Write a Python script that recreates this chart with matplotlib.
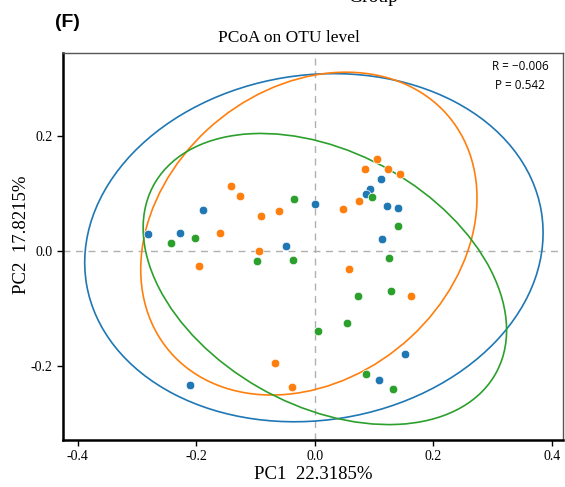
import matplotlib
matplotlib.use('Agg')
import matplotlib.pyplot as plt
from matplotlib.patches import Ellipse

# sample scores on the first two axes, one list per group
blue_pc1 = [-0.189, 0.000, -0.281, -0.227, -0.049, 0.111, 0.093, 0.087, 0.122, 0.140, 0.114, 0.152, 0.109, -0.211]
blue_pc2 = [0.071, 0.081, 0.030, 0.031, 0.008, 0.125, 0.107, 0.099, 0.078, 0.075, 0.020, -0.180, -0.225, -0.233]

orange_pc1 = [-0.142, -0.126, -0.090, -0.060, -0.160, -0.094, -0.196, 0.105, 0.085, 0.124, 0.143, 0.075, 0.047, 0.057, 0.163, -0.068, -0.038]
orange_pc2 = [0.113, 0.096, 0.060, 0.069, 0.031, 0.000, -0.026, 0.159, 0.143, 0.143, 0.134, 0.086, 0.072, -0.031, -0.078, -0.195, -0.236]

green_pc1 = [-0.035, -0.203, -0.243, -0.098, -0.037, 0.097, 0.141, 0.126, 0.073, 0.129, 0.055, 0.006, 0.087, 0.132]
green_pc2 = [0.090, 0.023, 0.013, -0.018, -0.016, 0.093, 0.043, -0.012, -0.078, -0.070, -0.125, -0.139, -0.214, -0.240]

# confidence ellipses: centre x, centre y, semi-major, semi-minor, angle (deg)
ell_blue = [-0.0015, 0.0055, 0.389, 0.300, 9.5]
ell_orange = [-0.010, 0.030, 0.312, 0.249, 43.6]
ell_green = [0.017, -0.049, 0.332, 0.219, -30.6]

stat_r = '\u22120.006'
stat_p = '0.542'

c_blue = '#1f77b4'
c_orange = '#ff7f0e'
c_green = '#2ca02c'

serif = ['Liberation Serif', 'DejaVu Serif']
sans = ['Open Sans', 'DejaVu Sans']

fig = plt.figure(figsize=(5.65, 4.87), dpi=100)
ax = fig.add_axes([0.1115, 0.0965, 0.885, 0.7945])

ax.axhline(0, color='#b0b0b0', linestyle=(0, (5, 4)), linewidth=1.0, zorder=0)
ax.axvline(0, color='#b0b0b0', linestyle=(0, (5, 4)), linewidth=1.0, zorder=0)

for e, c in [(ell_blue, c_blue), (ell_orange, c_orange), (ell_green, c_green)]:
    ax.add_patch(Ellipse((e[0], e[1]), 2 * e[2], 2 * e[3], angle=e[4],
                         fill=False, edgecolor=c, linewidth=1.2, zorder=1))

for xs, ys, c in [(blue_pc1, blue_pc2, c_blue), (orange_pc1, orange_pc2, c_orange),
                  (green_pc1, green_pc2, c_green)]:
    ax.scatter(xs, ys, s=38, color=c, edgecolors='white', linewidths=0.5, zorder=3)

ax.set_xlim(-0.425, 0.419)
ax.set_ylim(-0.329, 0.344)
ax.set_xticks([-0.4, -0.2, 0.0, 0.2, 0.4])
ax.set_yticks([-0.2, 0.0, 0.2])
ax.set_xticklabels(['-0.4', '-0.2', '0.0', '0.2', '0.4'], family=serif, fontsize=10)
ax.set_yticklabels(['-0.2', '0.0', '0.2'], family=serif, fontsize=10)
ax.tick_params(direction='out', length=4, width=1, color='black')

for side in ['left', 'bottom']:
    ax.spines[side].set_color('black')
    ax.spines[side].set_linewidth(1.8)
for side in ['top', 'right']:
    ax.spines[side].set_color('#555555')
    ax.spines[side].set_linewidth(1.0)

ax.set_title('PCoA on OTU level', family=serif, fontsize=12.5, pad=8, x=0.452)
ax.set_xlabel('PC1  22.3185%', family=serif, fontsize=13.5, labelpad=2)
ax.set_ylabel('PC2  17.8215%', family=serif, fontsize=13.5)
ax.yaxis.set_label_coords(-0.066, 0.53)

ax.text(0.914, 0.966, 'R = ' + stat_r, transform=ax.transAxes, ha='center', va='center',
        family=sans, fontsize=8.5)
ax.text(0.914, 0.917, 'P = ' + stat_p, transform=ax.transAxes, ha='center', va='center',
        family=sans, fontsize=8.5)

fig.text(0.097, 0.945, '(F)', family=['Liberation Sans', 'DejaVu Sans'], fontweight='bold',
         fontsize=14, ha='left', va='baseline')
fig.text(0.616, 1 - 2 / 487, 'Group', family=serif, fontsize=14, ha='left', va='baseline')

fig.savefig('out.png', dpi=100)
